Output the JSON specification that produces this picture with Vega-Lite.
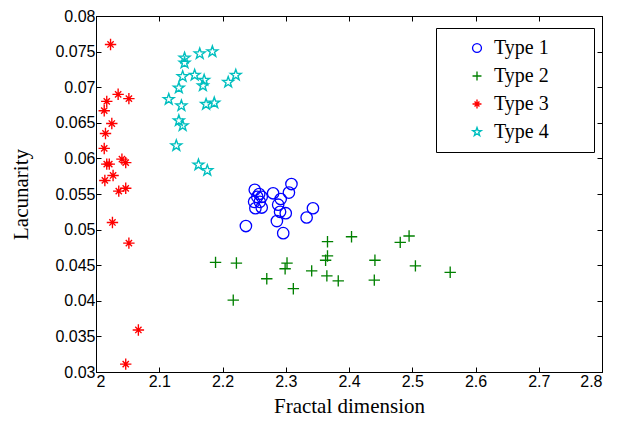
{
  "$schema": "https://vega.github.io/schema/vega-lite/v6.json",
  "autosize": "none",
  "width": 506,
  "height": 356,
  "padding": {"left": 96, "top": 16, "right": 28, "bottom": 57},
  "background": "white",
  "config": {
    "view": {"stroke": "black", "strokeWidth": 1},
    "axis": {"grid": false, "domainColor": "black", "tickColor": "black", "labelColor": "black", "titleColor": "black", "labelFont": "Liberation Sans", "labelFontSize": 16, "titleFont": "Liberation Serif", "titleFontSize": 21, "titleFontWeight": "normal", "tickSize": -5, "labelPadding": 6}
  },
  "data": {"values": [
    {"x": 2.251, "y": 0.0556, "type": "Type 1"},
    {"x": 2.258, "y": 0.0550, "type": "Type 1"},
    {"x": 2.262, "y": 0.0546, "type": "Type 1"},
    {"x": 2.255, "y": 0.0546, "type": "Type 1"},
    {"x": 2.250, "y": 0.0539, "type": "Type 1"},
    {"x": 2.259, "y": 0.0539, "type": "Type 1"},
    {"x": 2.252, "y": 0.0530, "type": "Type 1"},
    {"x": 2.262, "y": 0.0531, "type": "Type 1"},
    {"x": 2.280, "y": 0.0551, "type": "Type 1"},
    {"x": 2.292, "y": 0.0543, "type": "Type 1"},
    {"x": 2.309, "y": 0.0564, "type": "Type 1"},
    {"x": 2.305, "y": 0.0552, "type": "Type 1"},
    {"x": 2.288, "y": 0.0535, "type": "Type 1"},
    {"x": 2.291, "y": 0.0525, "type": "Type 1"},
    {"x": 2.300, "y": 0.0523, "type": "Type 1"},
    {"x": 2.286, "y": 0.0512, "type": "Type 1"},
    {"x": 2.237, "y": 0.0505, "type": "Type 1"},
    {"x": 2.296, "y": 0.0495, "type": "Type 1"},
    {"x": 2.343, "y": 0.0530, "type": "Type 1"},
    {"x": 2.333, "y": 0.0517, "type": "Type 1"},
    {"x": 2.189, "y": 0.0454, "type": "Type 2"},
    {"x": 2.222, "y": 0.0453, "type": "Type 2"},
    {"x": 2.217, "y": 0.0401, "type": "Type 2"},
    {"x": 2.270, "y": 0.0431, "type": "Type 2"},
    {"x": 2.302, "y": 0.0453, "type": "Type 2"},
    {"x": 2.299, "y": 0.0445, "type": "Type 2"},
    {"x": 2.312, "y": 0.0417, "type": "Type 2"},
    {"x": 2.341, "y": 0.0442, "type": "Type 2"},
    {"x": 2.366, "y": 0.0483, "type": "Type 2"},
    {"x": 2.366, "y": 0.0463, "type": "Type 2"},
    {"x": 2.363, "y": 0.0457, "type": "Type 2"},
    {"x": 2.365, "y": 0.0435, "type": "Type 2"},
    {"x": 2.383, "y": 0.0428, "type": "Type 2"},
    {"x": 2.404, "y": 0.0490, "type": "Type 2"},
    {"x": 2.441, "y": 0.0457, "type": "Type 2"},
    {"x": 2.440, "y": 0.0429, "type": "Type 2"},
    {"x": 2.481, "y": 0.0482, "type": "Type 2"},
    {"x": 2.495, "y": 0.0491, "type": "Type 2"},
    {"x": 2.505, "y": 0.0449, "type": "Type 2"},
    {"x": 2.560, "y": 0.0440, "type": "Type 2"},
    {"x": 2.023, "y": 0.0760, "type": "Type 3"},
    {"x": 2.035, "y": 0.0690, "type": "Type 3"},
    {"x": 2.052, "y": 0.0684, "type": "Type 3"},
    {"x": 2.017, "y": 0.0680, "type": "Type 3"},
    {"x": 2.013, "y": 0.0667, "type": "Type 3"},
    {"x": 2.025, "y": 0.0649, "type": "Type 3"},
    {"x": 2.015, "y": 0.0635, "type": "Type 3"},
    {"x": 2.013, "y": 0.0614, "type": "Type 3"},
    {"x": 2.041, "y": 0.0599, "type": "Type 3"},
    {"x": 2.047, "y": 0.0594, "type": "Type 3"},
    {"x": 2.017, "y": 0.0592, "type": "Type 3"},
    {"x": 2.021, "y": 0.0592, "type": "Type 3"},
    {"x": 2.027, "y": 0.0576, "type": "Type 3"},
    {"x": 2.014, "y": 0.0569, "type": "Type 3"},
    {"x": 2.036, "y": 0.0554, "type": "Type 3"},
    {"x": 2.047, "y": 0.0558, "type": "Type 3"},
    {"x": 2.026, "y": 0.0510, "type": "Type 3"},
    {"x": 2.052, "y": 0.0481, "type": "Type 3"},
    {"x": 2.067, "y": 0.0359, "type": "Type 3"},
    {"x": 2.047, "y": 0.0311, "type": "Type 3"},
    {"x": 2.140, "y": 0.0741, "type": "Type 4"},
    {"x": 2.140, "y": 0.0734, "type": "Type 4"},
    {"x": 2.164, "y": 0.0747, "type": "Type 4"},
    {"x": 2.184, "y": 0.0750, "type": "Type 4"},
    {"x": 2.137, "y": 0.0715, "type": "Type 4"},
    {"x": 2.156, "y": 0.0717, "type": "Type 4"},
    {"x": 2.171, "y": 0.0710, "type": "Type 4"},
    {"x": 2.169, "y": 0.0702, "type": "Type 4"},
    {"x": 2.131, "y": 0.0699, "type": "Type 4"},
    {"x": 2.209, "y": 0.0707, "type": "Type 4"},
    {"x": 2.221, "y": 0.0717, "type": "Type 4"},
    {"x": 2.115, "y": 0.0683, "type": "Type 4"},
    {"x": 2.135, "y": 0.0674, "type": "Type 4"},
    {"x": 2.174, "y": 0.0676, "type": "Type 4"},
    {"x": 2.187, "y": 0.0678, "type": "Type 4"},
    {"x": 2.131, "y": 0.0653, "type": "Type 4"},
    {"x": 2.137, "y": 0.0646, "type": "Type 4"},
    {"x": 2.127, "y": 0.0618, "type": "Type 4"},
    {"x": 2.162, "y": 0.0591, "type": "Type 4"},
    {"x": 2.176, "y": 0.0583, "type": "Type 4"}
  ]},
  "layer": [
    {
      "mark": {"type": "point", "filled": false, "size": 130, "opacity": 1},
      "encoding": {
        "x": {"field": "x", "type": "quantitative", "title": "Fractal dimension",
          "scale": {"domain": [2, 2.8], "nice": false, "zero": false},
          "axis": {"values": [2, 2.1, 2.2, 2.3, 2.4, 2.5, 2.6, 2.7, 2.8], "format": "~g", "titlePadding": 6}},
        "y": {"field": "y", "type": "quantitative", "title": "Lacunarity",
          "scale": {"domain": [0.03, 0.08], "nice": false, "zero": false},
          "axis": {"values": [0.03, 0.035, 0.04, 0.045, 0.05, 0.055, 0.06, 0.065, 0.07, 0.075, 0.08], "format": "~g", "titlePadding": 23}},
        "color": {"field": "type", "type": "nominal",
          "scale": {"domain": ["Type 1", "Type 2", "Type 3", "Type 4"], "range": ["#0000FF", "#008000", "#FF0000", "#00BFBF"]},
          "legend": {"title": null, "orient": "none", "legendX": 340, "legendY": 12, "strokeColor": "black", "fillColor": "white", "padding": 10, "symbolOffset": 21, "labelFont": "Liberation Serif", "labelFontSize": 20, "labelColor": "black", "symbolSize": 80, "symbolStrokeWidth": 1.3, "rowPadding": 8, "labelOffset": 7, "labelExpr": "datum.label + '\u00a0\u00a0\u00a0\u00a0\u00a0\u00a0\u00a0\u200b'"}},
        "shape": {"field": "type", "type": "nominal",
          "scale": {"domain": ["Type 1", "Type 2", "Type 3", "Type 4"], "range": ["circle", "M-1,0L1,0M0,-1L0,1", "M-1,0L1,0M0,-1L0,1M-0.55,-0.55L0.55,0.55M-0.55,0.55L0.55,-0.55", "M0,-1L0.235,-0.324L0.951,-0.309L0.38,0.124L0.588,0.809L0,0.4L-0.588,0.809L-0.38,0.124L-0.951,-0.309L-0.235,-0.324Z"]},
          "legend": null},
        "strokeWidth": {"field": "type", "type": "nominal",
          "scale": {"domain": ["Type 1", "Type 2", "Type 3", "Type 4"], "range": [1.3, 1.4, 2, 1.3]},
          "legend": null}
      }
    },
    {
      "mark": {"type": "point", "opacity": 0},
      "encoding": {
        "x": {"field": "x", "type": "quantitative", "axis": {"orient": "top", "labels": false, "title": null, "values": [2, 2.1, 2.2, 2.3, 2.4, 2.5, 2.6, 2.7, 2.8]}},
        "y": {"field": "y", "type": "quantitative", "axis": {"orient": "right", "labels": false, "title": null, "values": [0.03, 0.035, 0.04, 0.045, 0.05, 0.055, 0.06, 0.065, 0.07, 0.075, 0.08]}}
      }
    }
  ],
  "resolve": {"axis": {"x": "independent", "y": "independent"}}
}
